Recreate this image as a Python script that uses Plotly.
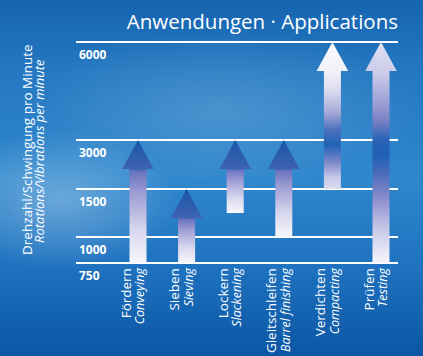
import base64
import numpy as np
import plotly.graph_objects as go

# ---------------- data ----------------
CATEGORIES_DE = ["Fördern", "Sieben", "Lockern", "Gleitschleifen", "Verdichten", "Prüfen"]
CATEGORIES_EN = ["Conveying", "Sieving", "Slackening", "Barrel finishing", "Compacting", "Testing"]
RANGE_LOW = [750, 750, 1250, 1000, 1500, 750]
RANGE_HIGH = [3000, 1500, 3000, 3000, 6000, 6000]

TICK_VALUES = [750, 1000, 1500, 3000, 6000]
TICK_LABELS = ["750", "1000", "1500", "3000", "6000"]

TITLE = "Anwendungen · Applications"
YTITLE_DE = "Drehzahl/Schwingung pro Minute"
YTITLE_EN = "Rotations/Vibrations per minute"

# ---------------- scale (non-uniform value axis) ----------------
SCALE_POS = [0, 26, 74, 123, 221]


def ypos(v):
    return float(np.interp(v, TICK_VALUES, SCALE_POS))


W, H = 423, 356
FONT = "Open Sans"

SHAFT_HALF = 0.175
HEAD_HALF = 0.325
HEAD_H = 29.0


def small_scale(fh):
    return [[0.0, "#f7f7fc"], [0.35 * fh, "#d8d7ee"], [0.75 * fh, "#9c9bd4"],
            [fh * 0.97, "#6a74bf"], [fh, "#3e63b2"], [1.0, "#1a56a8"]]


STYLE_HIGH_A = [[0.0, "#dcdcf0"], [0.08, "#c6c7e7"], [0.18, "#7f89c9"], [0.3, "#1f62b6"],
                [0.4, "#4a70bc"], [0.52, "#a6a9d8"], [0.68, "#dedef1"], [0.8, "#f1f1f9"],
                [1.0, "#fafafd"]]
STYLE_HIGH_B = [[0.0, "#f6f6fb"], [0.15, "#c9c9e9"], [0.29, "#8c8ecd"], [0.4, "#4e6dba"],
                [0.49, "#1f60b4"], [0.56, "#2a63b5"], [0.65, "#7e82c5"], [0.74, "#a3a5d7"],
                [0.86, "#cbcbea"], [1.0, "#e0e0f2"]]

fig = go.Figure()

for i, (lo, hi) in enumerate(zip(RANGE_LOW, RANGE_HIGH)):
    y0, y1 = ypos(lo), ypos(hi)
    yb = y1 - HEAD_H
    xs = [i - SHAFT_HALF, i + SHAFT_HALF, i + SHAFT_HALF, i + HEAD_HALF, i,
          i - HEAD_HALF, i - SHAFT_HALF, i - SHAFT_HALF]
    ys = [y0, y0, yb, yb, y1, yb, yb, y0]
    if hi >= 6000:
        cs = STYLE_HIGH_A if lo > 750 else STYLE_HIGH_B
    else:
        cs = small_scale((yb - y0) / (y1 - y0))
    fig.add_trace(go.Scatter(
        x=xs, y=ys, mode="lines", fill="toself",
        line=dict(width=0, color="rgba(0,0,0,0)"),
        fillgradient=dict(type="vertical", colorscale=cs),
        hoverinfo="skip", showlegend=False,
    ))

# ---------------- background ----------------
svg = f"""<svg xmlns='http://www.w3.org/2000/svg' width='{W}' height='{H}' viewBox='0 0 {W} {H}' preserveAspectRatio='none'>
<defs>
<linearGradient id='g' x1='0' y1='0' x2='0' y2='1'>
<stop offset='0' stop-color='#1764b0'/>
<stop offset='0.2' stop-color='#2478c1'/>
<stop offset='0.5' stop-color='#2f87cd'/>
<stop offset='0.75' stop-color='#1f72bf'/>
<stop offset='1' stop-color='#0a56a4'/>
</linearGradient>
<radialGradient id='r1' cx='0.5' cy='0.5' r='0.5'>
<stop offset='0' stop-color='#ffffff' stop-opacity='0.3'/>
<stop offset='1' stop-color='#ffffff' stop-opacity='0'/>
</radialGradient>
<radialGradient id='r2' cx='0.5' cy='0.5' r='0.5'>
<stop offset='0' stop-color='#ffffff' stop-opacity='0.16'/>
<stop offset='1' stop-color='#ffffff' stop-opacity='0'/>
</radialGradient>
</defs>
<rect width='{W}' height='{H}' fill='url(#g)'/>
<ellipse cx='60' cy='200' rx='120' ry='70' fill='url(#r1)'/>
<ellipse cx='220' cy='110' rx='200' ry='80' fill='url(#r2)'/>
</svg>"""
src = "data:image/svg+xml;base64," + base64.b64encode(svg.encode()).decode()

# ---------------- layout ----------------
px_left, px_right = 76, 398
px_top_line, px_bottom_line = 42, 263
y_lo, y_hi = -28, 236
dom_top = 1 - (px_top_line - (y_hi - SCALE_POS[-1])) / H
dom_bot = 1 - (px_bottom_line + (0 - y_lo)) / H

ticktext_x = [f"<span style='font-size:13.5px'>{d}</span><br>"
              f"<span style='font-style:italic;font-size:12.5px'>{e}</span>"
              for d, e in zip(CATEGORIES_DE, CATEGORIES_EN)]

fig.update_layout(
    width=W, height=H,
    margin=dict(l=0, r=0, t=0, b=0),
    paper_bgcolor="#1466b2",
    plot_bgcolor="rgba(0,0,0,0)",
    images=[dict(source=src, xref="paper", yref="paper", x=0, y=1, sizex=1, sizey=1,
                 xanchor="left", yanchor="top", sizing="stretch", layer="below")],
    title=dict(text=TITLE, x=px_right / W, xanchor="right", xref="paper",
               y=1 - 22 / H, yanchor="middle", yref="container",
               font=dict(family=FONT, size=20.5, color="white")),
    xaxis=dict(
        domain=[px_left / W, px_right / W],
        range=[-1.276, 5.35],
        tickmode="array",
        tickvals=list(range(len(CATEGORIES_DE))),
        ticktext=ticktext_x,
        tickangle=-90,
        ticks="",
        ticklabelshift=-4,
        tickfont=dict(family=FONT, size=10.5, color="white"),
        showgrid=False, zeroline=False, showline=False,
        anchor="free", position=1 - 265 / H,
        fixedrange=True,
    ),
    yaxis=dict(
        domain=[dom_bot, dom_top],
        range=[y_lo, y_hi],
        tickmode="array",
        tickvals=SCALE_POS,
        ticktext=TICK_LABELS,
        ticks="",
        ticklabelposition="inside",
        ticklabelshift=13,
        tickfont=dict(family=FONT, size=12, color="white", weight="bold"),
        showgrid=True, gridcolor="white", gridwidth=2,
        zeroline=False, showline=False,
        fixedrange=True,
    ),
    annotations=[
        dict(text=YTITLE_DE, textangle=-90, x=27 / W, y=1 - 150 / H, xref="paper", yref="paper",
             xanchor="center", yanchor="middle", showarrow=False,
             font=dict(family=FONT, size=13.5, color="white")),
        dict(text=f"<i>{YTITLE_EN}</i>", textangle=-90, x=39 / W, y=1 - 151 / H, xref="paper",
             yref="paper", xanchor="center", yanchor="middle", showarrow=False,
             font=dict(family=FONT, size=13, color="white")),
    ],
)

fig.write_html(
    "out.html",
    config={"displayModeBar": False},
    post_script="document.body.style.margin='0';document.body.style.overflow='hidden';",
)
